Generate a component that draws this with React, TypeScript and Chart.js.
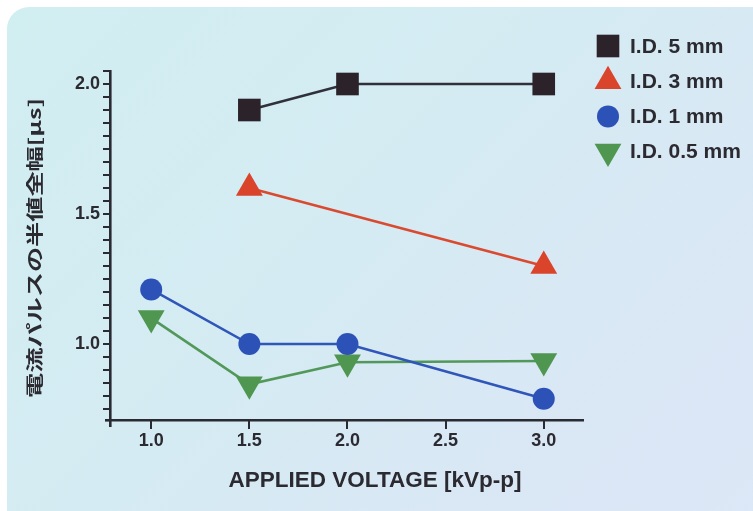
import React, { useEffect, useRef } from "react";
import { Chart, registerables } from "chart.js";
import { drawPoint } from "chart.js/helpers";

Chart.register(...registerables);

// ---- data ----
const seriesLabels = ["I.D. 5 mm", "I.D. 3 mm", "I.D. 1 mm", "I.D. 0.5 mm"];
const id5mmX = [1.5, 2.0, 3.0];
const id5mmY = [1.9, 2.0, 2.0];
const id3mmX = [1.5, 3.0];
const id3mmY = [1.6, 1.3];
const id1mmX = [1.0, 1.5, 2.0, 3.0];
const id1mmY = [1.21, 1.0, 1.0, 0.79];
const id05mmX = [1.0, 1.5, 2.0, 3.0];
const id05mmY = [1.1, 0.845, 0.93, 0.935];

const xTickValues = [1.0, 1.5, 2.0, 2.5, 3.0];
const yLabeledTicks = [1.0, 1.5, 2.0];
const yMinorStep = 0.05;
const yMinorFrom = 0.75;
const yMinorTo = 2.05;

const xTitle = "APPLIED VOLTAGE [kVp-p]";
const yTitle = "電流パルスの半値全幅[μs]";

// ---- style ----
const TEXT = "#2b2a30";
const AXIS = "#2a2a32";
const COLORS = ["#2b2329", "#d9442b", "#2c52b8", "#4f9650"];
const LINE_COLORS = ["#30303a", "#d94a30", "#2f56b8", "#52985a"];
const TICK_FONT = '"Liberation Sans", Arial, sans-serif';

const zip = (xs: number[], ys: number[]) => xs.map((x, i) => ({ x, y: ys[i] }));

const yMinorValues = (() => {
  const out: number[] = [];
  const n = Math.round((yMinorTo - yMinorFrom) / yMinorStep);
  for (let k = 0; k <= n; k++) out.push(+(yMinorFrom + k * yMinorStep).toFixed(2));
  return out;
})();

const decorPlugin = {
  id: "decor",
  afterDraw(chart: any) {
    const ctx = chart.ctx as CanvasRenderingContext2D;
    const area = chart.chartArea;
    const xs = chart.scales.x;
    const ys = chart.scales.y;
    ctx.save();
    // tick marks (filled rectangles)
    ctx.fillStyle = AXIS;
    xTickValues.forEach((v) => {
      const px = Math.round(xs.getPixelForValue(v));
      ctx.fillRect(px - 1, area.bottom, 2, 9);
    });
    yMinorValues.forEach((v) => {
      const py = Math.round(ys.getPixelForValue(v));
      ctx.fillRect(area.left - 7, py - 1, 7, 2);
    });
    // axis extensions at the corner
    ctx.fillRect(Math.round(area.left) - 1, area.bottom, 2.6, 7);
    ctx.fillRect(area.left - 5, Math.round(area.bottom) - 1, 5, 2.6);

    // legend
    chart.data.datasets.forEach((ds: any, i: number) => {
      const y = 46 + i * 35.2;
      ctx.fillStyle = ds.pointBackgroundColor;
      drawPoint(
        ctx,
        {
          pointStyle: ds.pointStyle,
          rotation: ds.pointRotation || 0,
          radius: ds.pointRadius,
          borderWidth: 0,
        } as any,
        608,
        y
      );
      ctx.fillStyle = TEXT;
      ctx.font = 'bold 21px "Liberation Sans", Arial, sans-serif';
      ctx.textAlign = "left";
      ctx.textBaseline = "middle";
      ctx.fillText(ds.label, 630, y + 1);
    });
    // x title
    ctx.fillStyle = TEXT;
    ctx.font = 'bold 22.5px "Liberation Sans", Arial, sans-serif';
    ctx.textAlign = "center";
    ctx.textBaseline = "middle";
    ctx.fillText(xTitle, 375, 481);
    // y title
    ctx.translate(35, 248);
    ctx.rotate(-Math.PI / 2);
    ctx.font = 'bold 17px "Noto Sans CJK JP", sans-serif';
    const w = ctx.measureText(yTitle).width;
    ctx.scale(300 / w, 1);
    ctx.textAlign = "center";
    ctx.textBaseline = "middle";
    ctx.fillText(yTitle, 0, 0);
    ctx.restore();
  },
};

export default function App() {
  const ref = useRef<HTMLCanvasElement | null>(null);

  useEffect(() => {
    if (!ref.current) return;
    const mk = (i: number, xs: number[], ys: number[], style: string, radius: number, rot = 0) => ({
      label: seriesLabels[i],
      data: zip(xs, ys),
      borderColor: LINE_COLORS[i],
      borderWidth: 2.6,
      pointBackgroundColor: COLORS[i],
      pointBorderColor: COLORS[i],
      pointBorderWidth: 0,
      pointStyle: style,
      pointRadius: radius,
      pointRotation: rot,
      tension: 0,
      fill: false,
    });
    const chart = new Chart(ref.current, {
      type: "line",
      data: {
        datasets: [
          mk(0, id5mmX, id5mmY, "rect", 16),
          mk(1, id3mmX, id3mmY, "triangle", 15.5),
          mk(2, id1mmX, id1mmY, "circle", 11),
          mk(3, id05mmX, id05mmY, "triangle", 15.5, 180),
        ] as any,
      },
      options: {
        animation: false,
        responsive: false,
        devicePixelRatio: 1,
        layout: { padding: { left: 0, top: 71, right: 170, bottom: 0 } },
        plugins: { legend: { display: false }, tooltip: { enabled: false } },
        scales: {
          x: {
            type: "linear",
            min: 0.79,
            max: 3.2,
            afterBuildTicks: (s: any) => {
              s.ticks = xTickValues.map((v) => ({ value: v }));
            },
            afterFit: (s: any) => {
              s.height = 91;
            },
            ticks: {
              autoSkip: false,
              maxRotation: 0,
              padding: 10,
              color: TEXT,
              font: { family: TICK_FONT, size: 18, weight: "bold" },
              callback: (v: any) => Number(v).toFixed(1),
            },
            grid: { display: false, drawOnChartArea: false, drawTicks: false },
            border: { color: AXIS, width: 2.6 },
          },
          y: {
            type: "linear",
            min: 0.708,
            max: 2.05,
            afterBuildTicks: (s: any) => {
              s.ticks = yMinorValues.map((v) => ({ value: v }));
            },
            afterFit: (s: any) => {
              s.width = 110;
            },
            ticks: {
              autoSkip: false,
              padding: 10,
              color: TEXT,
              font: { family: TICK_FONT, size: 18, weight: "bold" },
              callback: (v: any) => {
                const n = Number(v);
                return yLabeledTicks.some((l) => Math.abs(l - n) < 1e-6) ? n.toFixed(1) : "";
              },
            },
            grid: { display: false, drawOnChartArea: false, drawTicks: false },
            border: { color: AXIS, width: 2.6 },
          },
        },
      },
      plugins: [decorPlugin],
    });
    return () => chart.destroy();
  }, []);

  return (
    <div style={{ position: "fixed", left: 0, top: 0, width: 753, height: 511, background: "#ffffff", overflow: "hidden" }}>
      <div
        style={{
          position: "absolute",
          left: 7,
          top: 7,
          width: 780,
          height: 540,
          borderRadius: 22,
          background: "linear-gradient(135deg, #d1eef1 0%, #d5ebf3 45%, #dae7f5 75%, #dde7f7 100%)",
        }}
      />
      <canvas ref={ref} width={753} height={511} style={{ position: "absolute", left: 0, top: 0, width: 753, height: 511 }} />
    </div>
  );
}
